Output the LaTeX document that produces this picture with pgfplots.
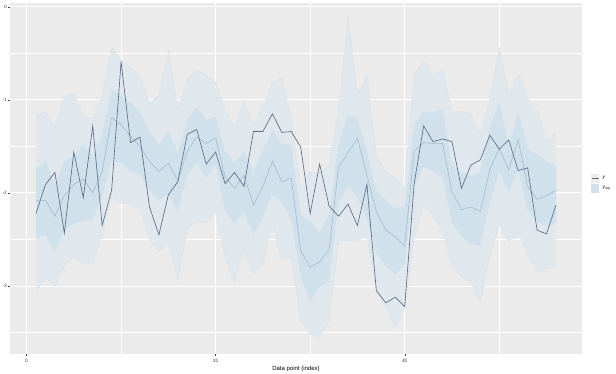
\documentclass[border=0pt]{standalone}
\usepackage{fontspec}
\setmainfont{Liberation Sans}
\usepackage{pgfplots}
\pgfplotsset{compat=1.18}
\usepackage{pgfplotstable}
\usepgfplotslibrary{fillbetween}

\definecolor{panelbg}{HTML}{EBEBEB}
\definecolor{outerband}{HTML}{E1E8ED}
\definecolor{outeredge}{HTML}{D6E1EA}
\definecolor{innerband}{HTML}{D1E1EC}
\definecolor{medcol}{HTML}{9FB7CC}
\definecolor{ycol}{HTML}{5B6B89}
\definecolor{keybg}{HTML}{EBEBEB}

\pgfplotstableread{
i y med ol il iu ou
1 -2.22 -2.08 -3.06 -2.49 -1.75 -1.16
2 -1.91 -2.08 -2.90 -2.45 -1.65 -1.13
3 -1.78 -2.25 -3.01 -2.64 -1.90 -1.30
4 -2.43 -2.03 -2.78 -2.40 -1.66 -0.96
5 -1.56 -1.91 -2.68 -2.33 -1.61 -0.93
6 -2.05 -1.85 -2.75 -2.30 -1.47 -1.18
7 -1.28 -2.00 -2.77 -2.29 -1.61 -1.20
8 -2.35 -1.77 -2.45 -2.04 -1.36 -0.95
9 -1.97 -1.19 -2.04 -1.65 -0.89 -0.44
10 -0.59 -1.27 -2.11 -1.68 -0.96 -0.57
11 -1.46 -1.39 -2.12 -1.77 -1.02 -0.66
12 -1.40 -1.50 -2.18 -1.80 -1.14 -0.75
13 -2.15 -1.66 -2.50 -1.97 -1.34 -1.04
14 -2.45 -1.77 -2.63 -2.08 -1.49 -0.95
15 -2.02 -1.68 -2.53 -2.02 -1.33 -0.48
16 -1.88 -1.87 -2.94 -2.20 -1.57 -1.11
17 -1.37 -1.55 -2.38 -1.81 -1.21 -0.78
18 -1.32 -1.40 -2.30 -1.68 -1.08 -0.68
19 -1.69 -1.47 -2.32 -1.84 -1.22 -0.74
20 -1.56 -1.41 -2.20 -1.70 -1.18 -0.81
21 -1.90 -1.83 -2.70 -2.18 -1.55 -1.13
22 -1.78 -1.95 -2.95 -2.34 -1.68 -1.29
23 -1.93 -1.81 -2.60 -2.20 -1.55 -1.01
24 -1.34 -2.13 -2.86 -2.45 -1.77 -1.29
25 -1.34 -1.93 -2.77 -2.25 -1.55 -1.06
26 -1.15 -1.66 -2.33 -2.02 -1.32 -0.82
27 -1.35 -1.88 -2.72 -2.11 -1.47 -0.76
28 -1.34 -1.84 -2.68 -2.29 -1.48 -1.20
29 -1.51 -2.62 -3.37 -2.90 -2.23 -1.97
30 -2.22 -2.80 -3.52 -3.17 -2.31 -1.77
31 -1.69 -2.74 -3.55 -3.01 -2.43 -1.79
32 -2.14 -2.61 -3.37 -2.95 -2.22 -1.70
33 -2.25 -1.72 -2.51 -2.11 -1.47 -1.11
34 -2.12 -1.57 -2.51 -1.93 -1.16 -0.12
35 -2.35 -1.41 -2.52 -2.04 -1.20 -0.95
36 -1.91 -1.81 -2.45 -2.29 -1.54 -0.74
37 -3.05 -2.20 -3.05 -2.65 -1.97 -1.60
38 -3.18 -2.40 -3.22 -2.79 -2.08 -1.77
39 -3.12 -2.47 -3.45 -2.88 -2.16 -1.84
40 -3.22 -2.57 -3.22 -2.76 -2.15 -1.95
41 -1.90 -1.55 -2.48 -1.92 -1.25 -0.73
42 -1.28 -1.46 -2.10 -1.72 -1.13 -0.58
43 -1.45 -1.47 -2.25 -1.77 -1.14 -0.75
44 -1.42 -1.47 -2.40 -1.83 -1.09 -0.68
45 -1.45 -1.99 -2.78 -2.33 -1.70 -1.13
46 -1.95 -2.18 -2.90 -2.47 -1.77 -1.13
47 -1.70 -2.15 -2.95 -2.55 -1.82 -1.15
48 -1.645 -2.20 -3.17 -2.57 -1.77 -1.37
49 -1.38 -1.75 -2.67 -2.11 -1.29 -1.00
50 -1.53 -1.52 -2.34 -1.77 -1.02 -0.44
51 -1.43 -1.75 -2.52 -1.99 -1.50 -0.95
52 -1.76 -1.43 -2.43 -1.75 -1.13 -0.72
53 -1.73 -1.93 -2.65 -2.18 -1.52 -0.98
54 -2.40 -2.07 -2.85 -2.31 -1.59 -1.13
55 -2.44 -2.03 -2.81 -2.36 -1.66 -1.44
56 -2.13 -1.97 -2.79 -2.34 -1.71 -1.35
}\data

\begin{document}
\begin{tikzpicture}
\begin{axis}[
  at={(0,0)}, anchor=south west,
  scale only axis, width=572pt, height=351pt,
  xmin=-1.75, xmax=58.75, ymin=-3.73, ymax=0.04,
  axis background/.style={fill=panelbg},
  axis line style={draw=none},
  xtick={0,20,40}, xticklabels={0,20,40},
  ytick={-3,-2,-1,0}, yticklabels={-3,-2,-1,0},
  minor xtick={10,30,50}, minor ytick={-3.5,-2.5,-1.5,-0.5},
  grid=both,
  major grid style={white, line width=0.9pt},
  minor grid style={white, line width=0.45pt},
  tick align=outside, major tick length=2pt, minor tick length=0pt,
  tick style={color=black!75, line width=0.4pt},
  xtick pos=bottom, ytick pos=left,
  ticklabel style={font=\fontsize{4.8}{5.5}\selectfont, text=black!75, inner sep=1pt},
  xticklabel style={yshift=-1.5pt},
  xlabel={Data point (index)},
  xlabel style={font=\fontsize{6}{7}\selectfont, text=black, inner sep=0pt, yshift=-2.5pt},
  clip=true,
]
\addplot[draw=none, name path=OU, forget plot] table[x=i, y=ou] {\data};
\addplot[draw=none, name path=OL, forget plot] table[x=i, y=ol] {\data};
\addplot[draw=none, name path=IU, forget plot] table[x=i, y=iu] {\data};
\addplot[draw=none, name path=IL, forget plot] table[x=i, y=il] {\data};
\addplot[fill=outerband, draw=none, forget plot] fill between[of=OU and OL];
\addplot[fill=innerband, draw=none, forget plot] fill between[of=IU and IL];
\addplot[outeredge, line width=0.4pt, forget plot] table[x=i, y=ou] {\data};
\addplot[outeredge, line width=0.4pt, forget plot] table[x=i, y=ol] {\data};
\addplot[medcol, line width=0.55pt, forget plot] table[x=i, y=med] {\data};
\addplot[ycol, line width=0.65pt, forget plot] table[x=i, y=y] {\data};
\end{axis}
% legend
\fill[keybg] (580.7pt,171.5pt) rectangle (589.3pt,180.5pt);
\draw[ycol, line width=0.7pt] (581.5pt,176pt) -- (588.5pt,176pt);
\fill[innerband] (580.7pt,161.5pt) rectangle (589.3pt,170.5pt);
\node[anchor=west, inner sep=0pt, font=\fontsize{4.8}{5.5}\selectfont] at (592.5pt,176pt) {\textit{y}};
\node[anchor=west, inner sep=0pt, font=\fontsize{4.8}{5.5}\selectfont] at (592.5pt,166pt) {\textit{y}\textsubscript{\textit{rep}}};
\pgfresetboundingbox
\path[use as bounding box] (-10pt,-19pt) rectangle (606pt,354pt);
\end{tikzpicture}
\end{document}
